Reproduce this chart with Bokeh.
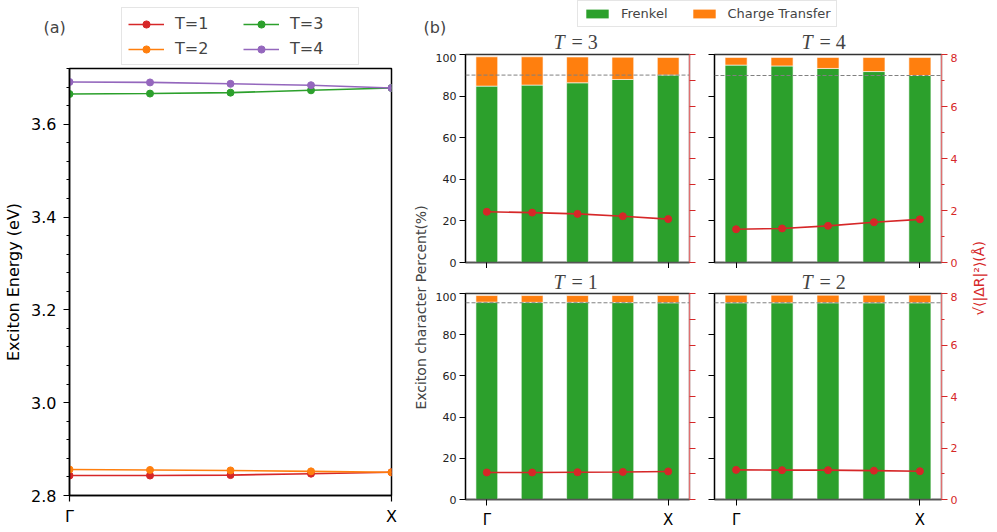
from bokeh.plotting import figure
from bokeh.models import (Range1d, LinearAxis, FixedTicker, SingleIntervalTicker, Legend,
                          LegendItem, Label, Span, ColumnDataSource, PrintfTickFormatter)
from bokeh.layouts import row, column
from bokeh.embed import file_html
from bokeh.resources import INLINE

# ---------------- data ----------------
k_points = [0, 1, 2, 3, 4]
k_tick_labels = {0: "Γ", 4: "X"}

energy_T1 = [2.843, 2.843, 2.844, 2.847, 2.850]
energy_T2 = [2.856, 2.855, 2.854, 2.852, 2.850]
energy_T3 = [3.665, 3.666, 3.668, 3.673, 3.678]
energy_T4 = [3.691, 3.690, 3.687, 3.684, 3.678]

frenkel_T1 = [95.8, 95.7, 95.7, 95.6, 95.5]
ct_T1 = [3.2, 3.3, 3.3, 3.4, 3.5]
rms_T1 = [1.05, 1.05, 1.06, 1.07, 1.09]

frenkel_T2 = [95.5, 95.5, 95.5, 95.5, 95.5]
ct_T2 = [3.7, 3.7, 3.7, 3.7, 3.7]
rms_T2 = [1.15, 1.14, 1.14, 1.12, 1.10]

frenkel_T3 = [84.8, 85.3, 86.4, 88.0, 90.1]
ct_T3 = [14.1, 13.6, 12.4, 10.7, 8.5]
rms_T3 = [1.95, 1.92, 1.87, 1.78, 1.67]

frenkel_T4 = [94.9, 94.5, 93.3, 91.8, 89.9]
ct_T4 = [3.7, 4.1, 5.3, 6.8, 8.7]
rms_T4 = [1.28, 1.31, 1.41, 1.55, 1.66]

percent_ticks = [0, 20, 40, 60, 80, 100]
rms_ticks = [0, 1, 2, 3, 4, 5, 6, 7, 8]

RED = "#d62728"
ORANGE = "#ff7f0e"
GREEN = "#2ca02c"
PURPLE = "#9467bd"
FONT = "DejaVu Sans"
SERIF = "Liberation Serif"

# off-screen point used only so legend proxies have something to draw from
PROXY = dict(x=[-10.0], y=[-10.0])


def blank(width, height):
    f = figure(width=width, height=height, output_backend="svg", toolbar_location=None,
               title=None, x_range=Range1d(0, 1), y_range=Range1d(0, 1), min_border=0,
               x_axis_location=None, y_axis_location=None)
    f.grid.visible = False
    f.outline_line_color = None
    return f


# ---------------- panel (a) ----------------
strip_a = blank(408, 66)
pa = figure(width=408, height=465, output_backend="svg", toolbar_location=None, title=None,
            x_range=Range1d(0, 4), y_range=Range1d(2.8, 3.72),
            min_border_left=69, min_border_right=17, min_border_top=2, min_border_bottom=36)
pa.grid.visible = False
pa.outline_line_color = "black"
pa.outline_line_width = 1.5

items = []
for lab, ys, col in [("T=1", energy_T1, RED), ("T=2", energy_T2, ORANGE),
                     ("T=3", energy_T3, GREEN), ("T=4", energy_T4, PURPLE)]:
    src = ColumnDataSource(dict(x=k_points, y=ys))
    pa.line("x", "y", source=src, line_color=col, line_width=1.6)
    pa.scatter("x", "y", source=src, size=7, fill_color=col, line_color=col)
    proxy = ColumnDataSource(dict(PROXY))
    lr = strip_a.line("x", "y", source=proxy, line_color=col, line_width=1.6)
    sr = strip_a.scatter("x", "y", source=proxy, size=7, fill_color=col, line_color=col)
    items.append(LegendItem(label=lab, renderers=[lr, sr]))

pa.xaxis.ticker = FixedTicker(ticks=[0, 4])
pa.xaxis.major_label_overrides = k_tick_labels
pa.yaxis.ticker = SingleIntervalTicker(interval=0.2, num_minor_ticks=5)
pa.yaxis.formatter = PrintfTickFormatter(format="%.1f")
pa.yaxis.axis_label = "Exciton Energy (eV)"
for ax in (pa.xaxis[0], pa.yaxis[0]):
    ax.axis_line_width = 1.5
    ax.axis_line_color = "black"
    ax.major_tick_in = 0
    ax.major_tick_out = 6
    ax.minor_tick_in = 0
    ax.minor_tick_out = 3
    ax.major_tick_line_width = 1.2
    ax.minor_tick_line_width = 1
    ax.major_label_text_font = FONT
    ax.major_label_text_font_size = "16px"
    ax.major_label_text_color = "black"
    ax.axis_label_text_font = FONT
    ax.axis_label_text_font_size = "16px"
    ax.axis_label_text_font_style = "normal"
    ax.axis_label_text_color = "black"
pa.xaxis.major_label_standoff = 5
pa.yaxis.major_label_standoff = 7
pa.yaxis.axis_label_standoff = 5

leg_a = Legend(items=items, location=(121, 1), orientation="vertical", nrows=2,
               label_text_font=FONT, label_text_font_size="16px",
               glyph_width=36, glyph_height=18, label_standoff=11, label_width=62,
               spacing=6, padding=6, margin=0,
               border_line_color="#cccccc", border_line_width=1,
               background_fill_alpha=0.8)
strip_a.add_layout(leg_a, "center")
strip_a.add_layout(Label(x=43, y=39, x_units="screen", y_units="screen", text="(a)",
                         text_font=FONT, text_font_size="16px", text_baseline="alphabetic"))


# ---------------- panel (b) ----------------
def make_panel(frenkel, ct, rms, left_col, top_row):
    mb_left = 35 if left_col else 12
    mb_right = 13 if left_col else 21
    frame_w = 224 if left_col else 227
    mb_top = 1
    frame_h = 208 if top_row else 209
    mb_bottom = 6 if top_row else 29
    p = figure(width=mb_left + frame_w + mb_right, height=mb_top + frame_h + mb_bottom,
               output_backend="svg", toolbar_location=None, title=None,
               x_range=Range1d(-0.47, 4.47), y_range=Range1d(0, 100),
               min_border_left=mb_left, min_border_right=mb_right,
               min_border_top=mb_top, min_border_bottom=mb_bottom)
    p.grid.visible = False
    p.outline_line_color = "#333333"
    p.outline_line_width = 1.3
    p.extra_y_ranges = {"r": Range1d(0, 8)}

    total = [f + c for f, c in zip(frenkel, ct)]
    src = ColumnDataSource(dict(x=k_points, frenkel=frenkel, total=total, rms=rms))
    p.vbar(x="x", width=0.48, bottom=0, top="frenkel", source=src,
           fill_color=GREEN, line_color="white", line_width=1, line_alpha=0.6)
    p.vbar(x="x", width=0.48, bottom="frenkel", top="total", source=src,
           fill_color=ORANGE, line_color="white", line_width=1, line_alpha=0.6)
    p.add_layout(Span(location=frenkel[-1], dimension="width", line_color="#808080",
                      line_width=1, line_dash="4 2"))
    p.line("x", "rms", source=src, y_range_name="r", line_color=RED, line_width=1.6)
    p.scatter("x", "rms", source=src, y_range_name="r", size=7, fill_color=RED, line_color=RED)

    # left axis
    ya = p.yaxis[0]
    ya.axis_line_color = "black"
    ya.axis_line_width = 1.3
    ya.major_tick_in = 0
    ya.major_tick_out = 6
    ya.minor_tick_in = 0
    ya.minor_tick_out = 6
    ya.major_label_text_font = FONT
    ya.major_label_text_color = "#222222"
    ya.major_label_text_font_size = "11px"
    ya.major_label_standoff = 3
    if left_col:
        ya.ticker = FixedTicker(ticks=percent_ticks, minor_ticks=[])
    else:
        ya.ticker = FixedTicker(ticks=[], minor_ticks=percent_ticks)
        ya.major_label_standoff = 0

    # bottom axis
    xa = p.xaxis[0]
    xa.axis_line_color = "#555555"
    xa.axis_line_width = 1.3
    xa.major_tick_in = 0
    xa.major_tick_out = 6
    xa.minor_tick_in = 0
    xa.minor_tick_out = 6
    xa.major_label_text_font = FONT
    xa.major_label_text_color = "black"
    xa.major_label_text_font_size = "15px"
    if top_row:
        xa.ticker = FixedTicker(ticks=[], minor_ticks=[0, 4])
        xa.major_label_standoff = 0
    else:
        xa.ticker = FixedTicker(ticks=[0, 4], minor_ticks=[])
        xa.major_label_overrides = k_tick_labels
        xa.major_label_standoff = 5

    # right axis
    ra = LinearAxis(y_range_name="r")
    ra.axis_line_color = "#e07070"
    ra.axis_line_width = 1.3
    ra.major_tick_line_color = RED
    ra.minor_tick_line_color = RED
    ra.major_tick_in = 0
    ra.minor_tick_in = 0
    ra.major_label_text_font = FONT
    ra.major_label_text_color = RED
    ra.major_label_text_font_size = "11px"
    if left_col:
        ra.ticker = FixedTicker(ticks=[], minor_ticks=rms_ticks)
        ra.minor_tick_out = 6
        ra.major_label_standoff = 0
    else:
        ra.ticker = FixedTicker(ticks=rms_ticks[::2], minor_ticks=rms_ticks[1::2])
        ra.major_tick_out = 6
        ra.minor_tick_out = 3
        ra.major_label_standoff = 3
    p.add_layout(ra, "right")
    return p


p3 = make_panel(frenkel_T3, ct_T3, rms_T3, True, True)
p4 = make_panel(frenkel_T4, ct_T4, rms_T4, False, True)
p1 = make_panel(frenkel_T1, ct_T1, rms_T1, True, False)
p2 = make_panel(frenkel_T2, ct_T2, rms_T2, False, False)


def add_title(fig, x_left, y, num):
    fig.add_layout(Label(x=x_left, y=y, x_units="screen", y_units="screen", text="T",
                         text_font=SERIF, text_font_style="italic", text_font_size="20px",
                         text_baseline="alphabetic"))
    fig.add_layout(Label(x=x_left + 18, y=y, x_units="screen", y_units="screen",
                         text="= %d" % num, text_font=SERIF, text_font_size="20px",
                         text_baseline="alphabetic"))


# top strip of (b): panel tag, legend, titles of the top row
strip_b = blank(588, 53)
g_r = strip_b.vbar(x=[-10.0], top=[-10.0], width=0.5, fill_color=GREEN, line_color=None)
o_r = strip_b.vbar(x=[-10.0], top=[-10.0], width=0.5, fill_color=ORANGE, line_color=None)
leg_b = Legend(items=[LegendItem(label="Frenkel", renderers=[g_r]),
                      LegendItem(label="Charge Transfer", renderers=[o_r])],
               orientation="horizontal", location=(169, 26),
               label_text_font=FONT, label_text_font_size="13px",
               glyph_width=28, glyph_height=11, label_standoff=10, spacing=22,
               padding=5, margin=0, border_line_color="#cccccc", border_line_width=1)
strip_b.add_layout(leg_b, "center")
strip_b.add_layout(Label(x=15, y=26, x_units="screen", y_units="screen", text="(b)",
                         text_font=FONT, text_font_size="16px", text_baseline="alphabetic"))
add_title(strip_b, 145, 12, 3)
add_title(strip_b, 393, 12, 4)

# strip between the rows: titles of the bottom row
mid = blank(532, 24)
add_title(mid, 123, 10.5, 1)
add_title(mid, 371, 10.5, 2)

# left label strip
llab = blank(22, 478)
llab.add_layout(Label(x=12, y=224, x_units="screen", y_units="screen",
                      text="Exciton character Percent(%)", angle=1.5707963,
                      text_font=FONT, text_font_size="14px",
                      text_align="center", text_baseline="middle"))

# right label strip
rlab = blank(34, 478)
rlab.add_layout(Label(x=16, y=253, x_units="screen", y_units="screen",
                      text="√⟨|ΔR|²⟩(Å)", angle=1.5707963,
                      text_font=FONT, text_font_size="14px", text_color=RED,
                      text_align="center", text_baseline="middle"))

grid_b = column(row(p3, p4), mid, row(p1, p2))
panel_b = column(strip_b, row(llab, grid_b, rlab))
panel_a = column(row(strip_a), row(pa))
layout = row(panel_a, panel_b)

open("out.html", "w").write(file_html(layout, INLINE))
